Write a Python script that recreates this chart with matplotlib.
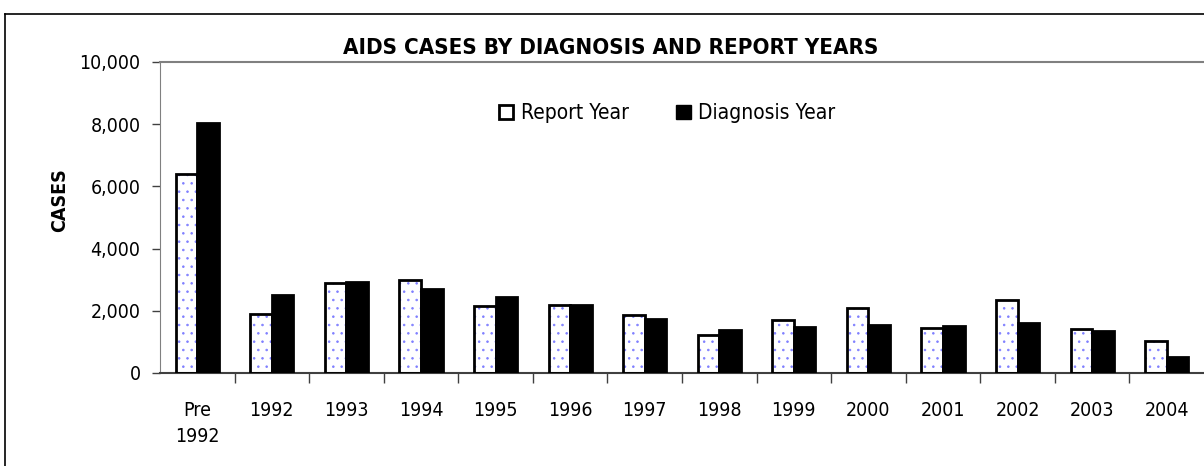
import numpy as np
import matplotlib.pyplot as plt
from matplotlib.lines import Line2D
from matplotlib import font_manager

# narrow font like the original (Arial Narrow); take what is installed
names = {f.name for f in font_manager.fontManager.ttflist}
condensed = [f for f in font_manager.fontManager.ttflist
             if f.name == 'DejaVu Sans' and f.stretch in ('condensed', 'semi-condensed', 600, 500)]
if 'Liberation Sans Narrow' in names:
    plt.rcParams['font.family'] = ['Liberation Sans Narrow', 'DejaVu Sans']
    fs = 16
elif condensed:
    plt.rcParams['font.family'] = ['DejaVu Sans']
    plt.rcParams['font.stretch'] = 'condensed'
    fs = 14
else:
    plt.rcParams['font.family'] = ['Liberation Sans', 'DejaVu Sans']
    fs = 14
plt.rcParams['hatch.linewidth'] = 0.6

categories = ['Pre\n1992', '1992', '1993', '1994', '1995', '1996', '1997',
              '1998', '1999', '2000', '2001', '2002', '2003', '2004']
report_year = [6400, 1890, 2900, 3000, 2150, 2200, 1850, 1230, 1700, 2100, 1450, 2340, 1420, 1020]
diagnosis_year = [8050, 2500, 2930, 2700, 2430, 2180, 1750, 1370, 1480, 1540, 1520, 1610, 1350, 510]

fig = plt.figure(figsize=(12.04, 4.66), dpi=100)
ax = fig.add_axes([0.1329, 0.1996, 0.8671, 0.6674])

x = np.arange(len(categories))
w = 0.29

# report year: white with blue dots, black outline
ax.bar(x - w/2, report_year, w, color='white', edgecolor='#8080ff', hatch='..', linewidth=0, zorder=2)
ax.bar(x - w/2, report_year, w, fill=False, edgecolor='black', linewidth=2, zorder=3)
ax.bar(x + w/2, diagnosis_year, w, color='black', edgecolor='black', linewidth=2, zorder=3)

ax.set_xlim(-0.5, len(categories) - 0.5)
ax.set_ylim(0, 10000)
ax.set_yticks(np.arange(0, 10001, 2000))
ax.set_yticklabels([f'{v:,}' for v in range(0, 10001, 2000)], fontsize=fs)
ax.set_xticks(x)
ax.set_xticklabels(categories, fontsize=fs, linespacing=1.5)
ax.tick_params(axis='x', length=0, pad=20)
ax.set_xticks(np.arange(0.5, len(categories) - 1, 1), minor=True)
ax.tick_params(axis='x', which='minor', length=7, width=1, color='#404040', direction='out')
ax.tick_params(axis='y', length=6, width=1, color='#404040', pad=8)

for s in ['left', 'top']:
    ax.spines[s].set_color('#808080')
ax.spines['top'].set_linewidth(1.5)
ax.spines['bottom'].set_color('#404040')
ax.spines['bottom'].set_linewidth(1.5)
ax.spines['right'].set_visible(False)

ax.set_ylabel('CASES', fontsize=fs, fontweight='bold')
ax.yaxis.set_label_coords(-0.087, 0.556)
fig.text(0.5075, 0.898, 'AIDS CASES BY DIAGNOSIS AND REPORT YEARS', fontsize=fs + 2,
         fontweight='bold', ha='center', va='center')

h1 = plt.Rectangle((0, 0), 1, 1, facecolor='white', edgecolor='black', linewidth=2)
h2 = plt.Rectangle((0, 0), 1, 1, facecolor='black', edgecolor='black')
fig.legend([h1, h2], ['Report Year', 'Diagnosis Year'], loc='center',
           bbox_to_anchor=(0.554, 0.757), ncol=2, frameon=False, fontsize=fs + 1,
           handlelength=0.7, handleheight=0.7, handletextpad=0.35, columnspacing=2.3)

# outer frame of the chart
fig.add_artist(Line2D([0.004, 0.004], [0, 0.970], color='black', lw=1.2, transform=fig.transFigure))
fig.add_artist(Line2D([0.004, 1.0], [0.970, 0.970], color='black', lw=1.2, transform=fig.transFigure))

fig.savefig('out.png', dpi=100)
